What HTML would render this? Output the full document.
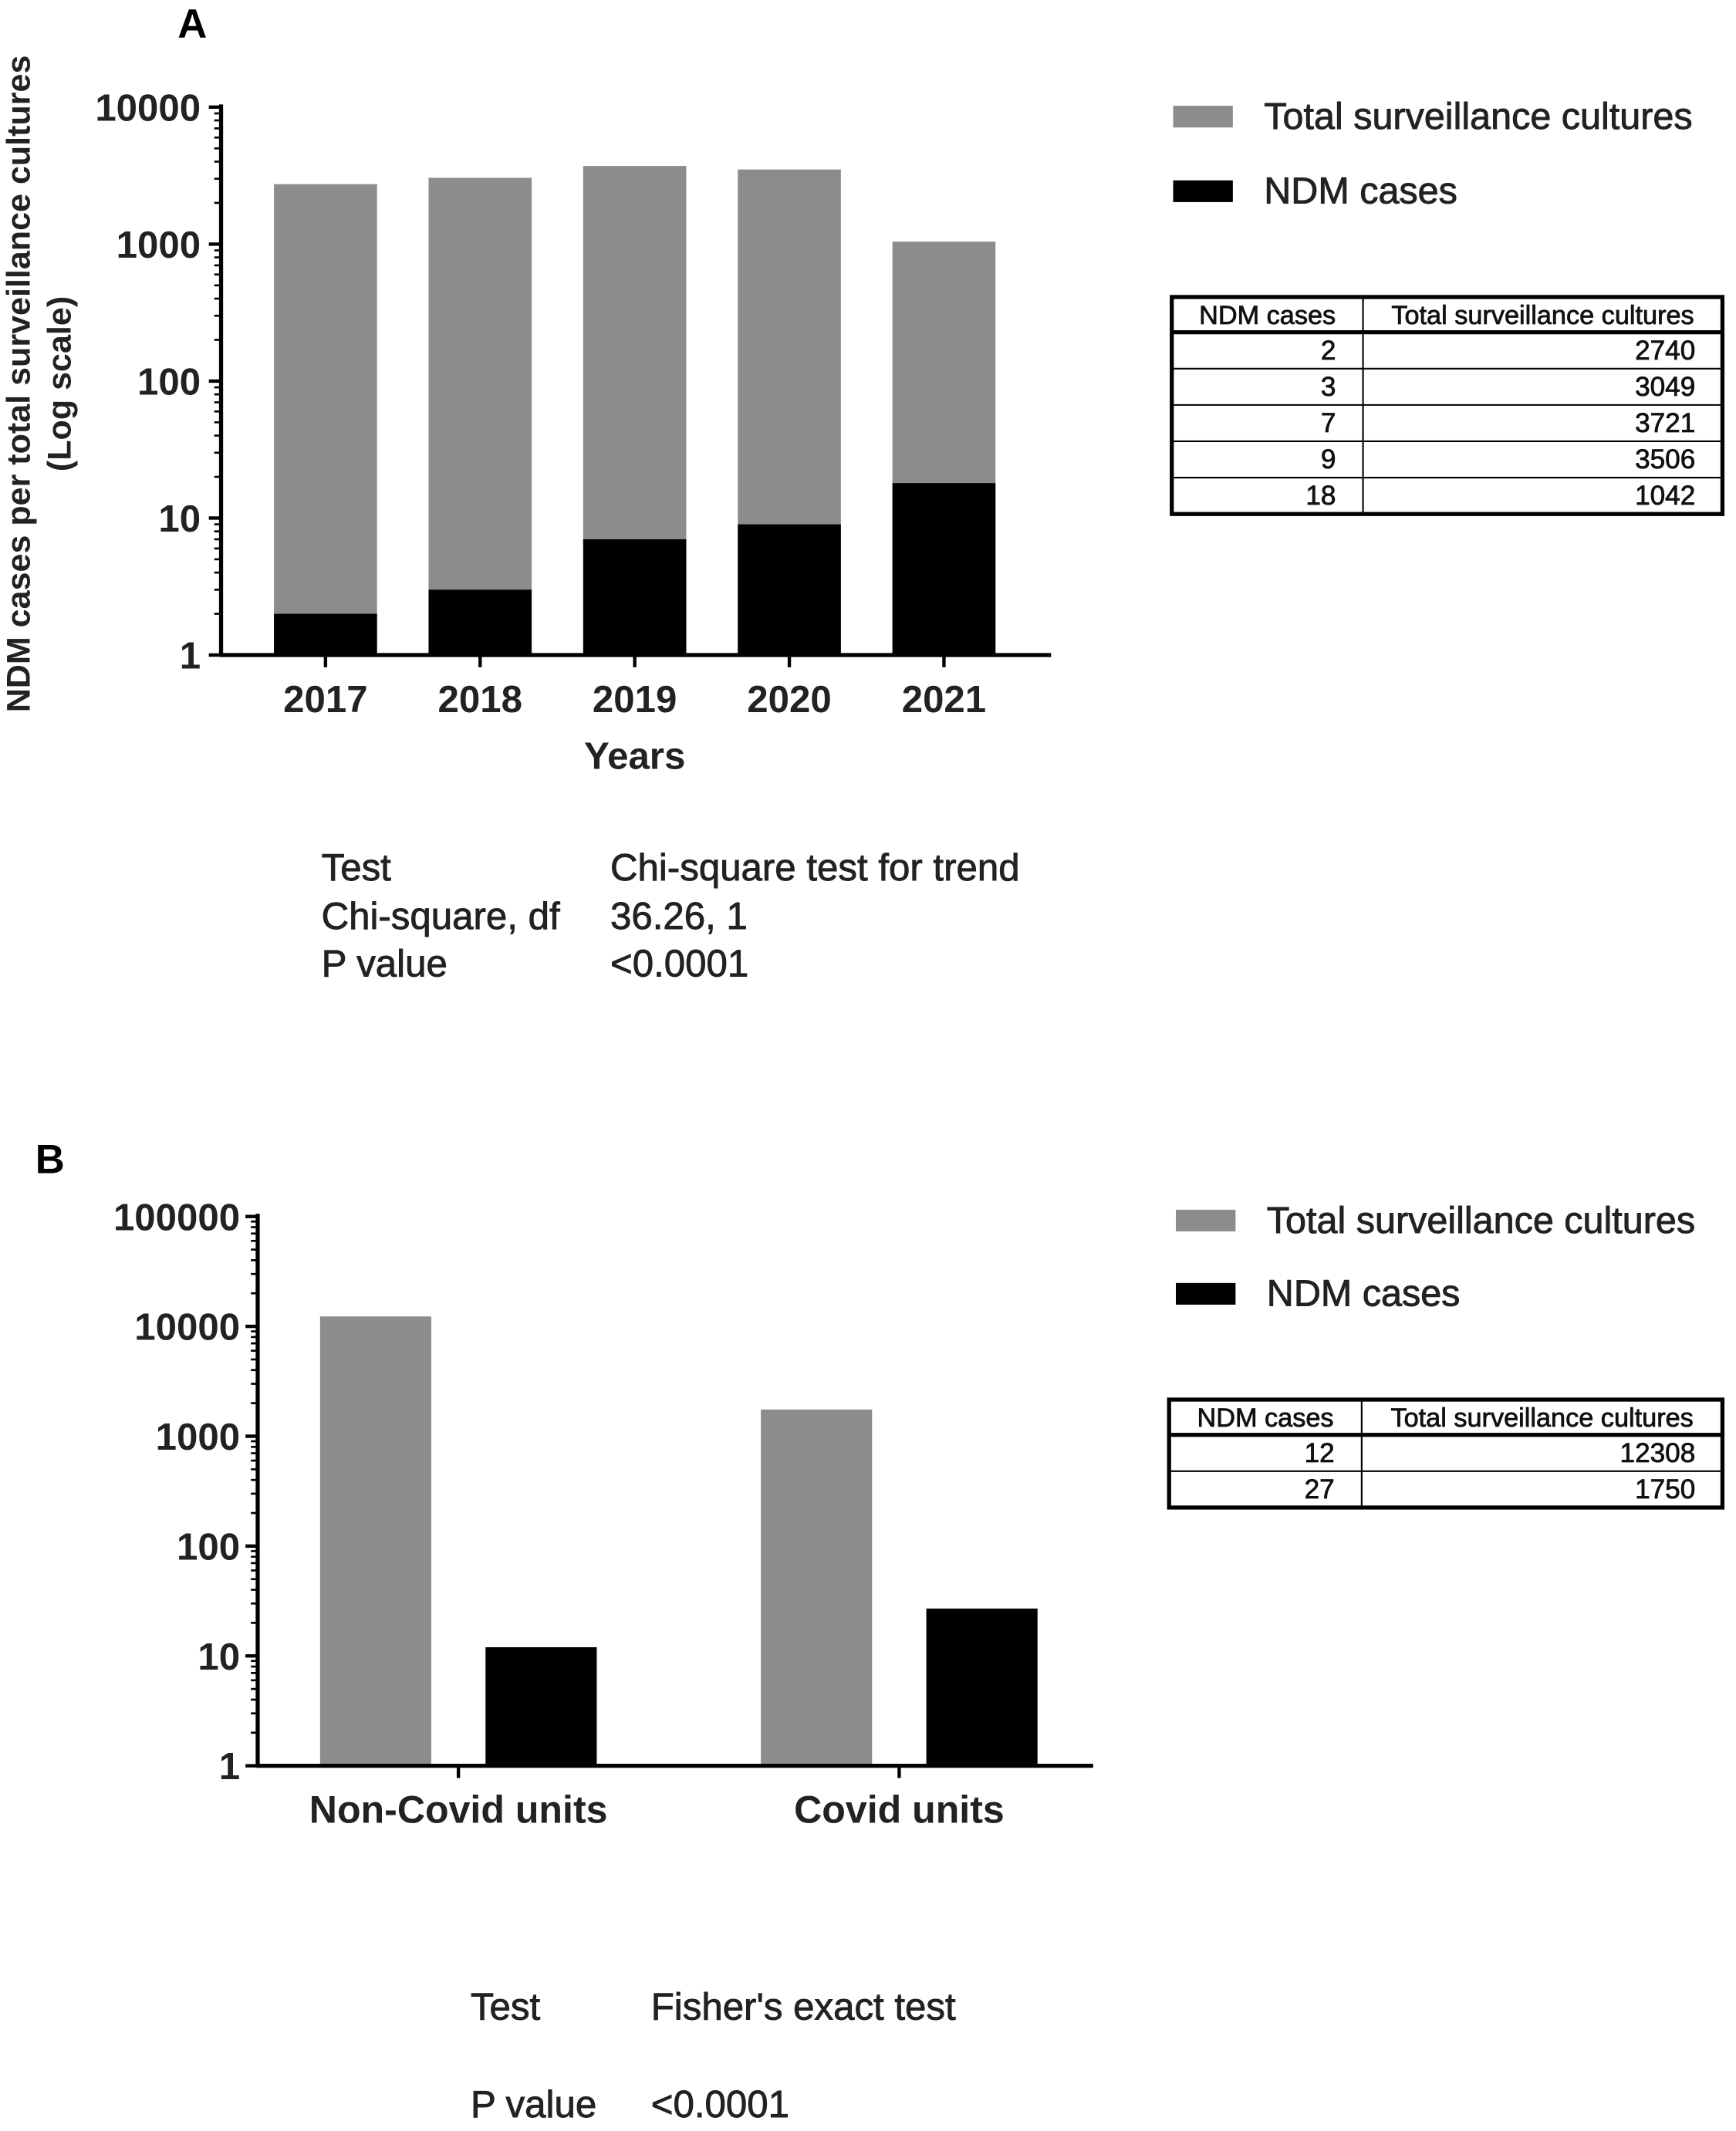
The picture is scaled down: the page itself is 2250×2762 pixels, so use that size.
<!DOCTYPE html>
<html><head><meta charset="utf-8"><style>
html,body{margin:0;padding:0;background:#fff;}
svg{display:block;}
text{font-family:"Liberation Sans",Arial,sans-serif;}
.semi{stroke:#222;stroke-width:0.5;}
</style></head><body>
<svg id="fig" width="2250" height="2762" viewBox="0 0 1280 1571.3" preserveAspectRatio="none" xmlns="http://www.w3.org/2000/svg">
<g id="panelA">
<text x="131" y="28" font-family="Liberation Serif" font-weight="bold" font-size="30">A</text>
<text transform="translate(22,283) rotate(-90)" text-anchor="middle" font-weight="bold" font-size="24.5" fill="#222">NDM cases per total surveillance cultures</text>
<text transform="translate(52,283) rotate(-90)" text-anchor="middle" font-weight="bold" font-size="24.5" fill="#222">(Log scale)</text>
<g id="barsA"></g><g id="axisA"></g>
<text x="468" y="567" text-anchor="middle" font-weight="bold" font-size="28" fill="#222">Years</text>
<g>
<rect x="865" y="78" width="44" height="16" fill="#8c8c8c"/>
<text class="semi" x="932" y="95" font-size="27.6" fill="#222">Total surveillance cultures</text>
<rect x="865" y="133" width="44" height="16" fill="#000"/>
<text class="semi" x="932" y="150" font-size="27.6" fill="#222">NDM cases</text>
</g>
<g id="tableA"></g>
<g class="semi" font-size="28" fill="#222">
<text x="237" y="649">Test</text><text x="450" y="649">Chi-square test for trend</text>
<text x="237" y="685">Chi-square, df</text><text x="450" y="685">36.26, 1</text>
<text x="237" y="720">P value</text><text x="450" y="720">&lt;0.0001</text>
</g>
</g>
<g id="panelB">
<text x="26" y="865" font-family="Liberation Serif" font-weight="bold" font-size="30">B</text>
<g id="barsB"></g><g id="axisB"></g>
<g>
<rect x="867" y="892" width="44" height="16" fill="#8c8c8c"/>
<text class="semi" x="934" y="909" font-size="27.6" fill="#222">Total surveillance cultures</text>
<rect x="867" y="946" width="44" height="16" fill="#000"/>
<text class="semi" x="934" y="963" font-size="27.6" fill="#222">NDM cases</text>
</g>
<g id="tableB"></g>
<g class="semi" font-size="28" fill="#222">
<text x="347" y="1489">Test</text><text x="480" y="1489">Fisher's exact test</text>
<text x="347" y="1561">P value</text><text x="480" y="1561">&lt;0.0001</text>
</g>
</g>
</svg>
<script>
const yearsA = ["2017","2018","2019","2020","2021"];
const ndmA = [2,3,7,9,18];
const totalA = [2740,3049,3721,3506,1042];
const ticksA = [1,10,100,1000,10000];
const groupsB = ["Non-Covid units","Covid units"];
const ndmB = [12,27];
const totalB = [12308,1750];
const ticksB = [1,10,100,1000,10000,100000];

const NS="http://www.w3.org/2000/svg";
function mk(parent,tag,attrs,txt){const e=document.createElementNS(NS,tag);for(const k in attrs)e.setAttribute(k,attrs[k]);if(txt!==undefined)e.textContent=txt;parent.appendChild(e);return e;}

// Panel A
const yA=v=>483-101*Math.log10(v);
const xA=i=>240+114*i;
const bA=document.getElementById('barsA');
yearsA.forEach((y,i)=>{
  const g=mk(bA,'rect',{x:xA(i)-38,y:yA(totalA[i]),width:76,height:483-yA(totalA[i]),fill:'#8c8c8c'});
  
  
  const b=mk(bA,'rect',{x:xA(i)-38,y:yA(ndmA[i]),width:76,height:483-yA(ndmA[i]),fill:'#000'});
  
  
});
const aA=document.getElementById('axisA');
const yl=mk(aA,'line',{x1:163,y1:77,x2:163,y2:484,stroke:'#000','stroke-width':3});


const xl=mk(aA,'line',{x1:162,y1:483,x2:775,y2:483,stroke:'#000','stroke-width':3});


ticksA.forEach((t,k)=>{
  mk(aA,'line',{x1:154,y1:yA(t),x2:163,y2:yA(t),stroke:'#000','stroke-width':2.5});
  const tl=mk(aA,'text',{x:148,y:yA(t)+10,'text-anchor':'end','font-weight':'bold','font-size':28,fill:'#222'},String(t));
  
  
  if(k<ticksA.length-1){for(let m=2;m<=9;m++){const yy=yA(t*m);mk(aA,'line',{x1:158,y1:yy,x2:163,y2:yy,stroke:'#000','stroke-width':1.5});}}
});
yearsA.forEach((y,i)=>{
  mk(aA,'line',{x1:xA(i),y1:483,x2:xA(i),y2:492,stroke:'#000','stroke-width':2.5});
  const tl=mk(aA,'text',{x:xA(i),y:525,'text-anchor':'middle','font-weight':'bold','font-size':28,fill:'#222'},y);
  
  
});

function table(id,x,y,w,split,rowsN,rowsT){
  const g=document.getElementById(id);
  const hh=26,rh=26.8,h=hh+rh*rowsN.length;
  mk(g,'rect',{x:x,y:y,width:w,height:h,fill:'#fff',stroke:'#000','stroke-width':3});
  mk(g,'line',{x1:x,y1:y+hh,x2:x+w,y2:y+hh,stroke:'#000','stroke-width':3});
  mk(g,'line',{x1:split,y1:y,x2:split,y2:y+h,stroke:'#000','stroke-width':1.2});
  mk(g,'text',{x:(x+split)/2,y:y+20,'text-anchor':'middle','font-size':19.5,fill:'#111',stroke:'#111','stroke-width':0.45},'NDM cases');
  mk(g,'text',{x:(split+x+w)/2,y:y+20,'text-anchor':'middle','font-size':19.5,fill:'#111',stroke:'#111','stroke-width':0.45},'Total surveillance cultures');
  rowsN.forEach((n,i)=>{
    const ry=y+hh+rh*i;
    if(i>0)mk(g,'line',{x1:x,y1:ry,x2:x+w,y2:ry,stroke:'#000','stroke-width':1.2});
    const c1=mk(g,'text',{x:split-20,y:ry+20,'text-anchor':'end','font-size':20,fill:'#111',stroke:'#111','stroke-width':0.45},String(n));
    
    
    const c2=mk(g,'text',{x:x+w-20,y:ry+20,'text-anchor':'end','font-size':20,fill:'#111',stroke:'#111','stroke-width':0.45},String(rowsT[i]));
    
    
  });
}
table('tableA',864,219,406,1005,ndmA,totalA);

// Panel B
const yB=v=>1302-81*Math.log10(v);
const cB=[338,663];
const bB=document.getElementById('barsB');
groupsB.forEach((gname,i)=>{
  const g=mk(bB,'rect',{x:cB[i]-102,y:yB(totalB[i]),width:82,height:1302-yB(totalB[i]),fill:'#8c8c8c'});
  
  
  const b=mk(bB,'rect',{x:cB[i]+20,y:yB(ndmB[i]),width:82,height:1302-yB(ndmB[i]),fill:'#000'});
  
  
});
const aB=document.getElementById('axisB');
const ylb=mk(aB,'line',{x1:190,y1:895,x2:190,y2:1303,stroke:'#000','stroke-width':3});


const xlb=mk(aB,'line',{x1:189,y1:1302,x2:806,y2:1302,stroke:'#000','stroke-width':3});


ticksB.forEach((t,k)=>{
  mk(aB,'line',{x1:181,y1:yB(t),x2:190,y2:yB(t),stroke:'#000','stroke-width':2.5});
  const tl=mk(aB,'text',{x:177,y:yB(t)+10,'text-anchor':'end','font-weight':'bold','font-size':28,fill:'#222'},String(t));
  
  
  if(k<ticksB.length-1){for(let m=2;m<=9;m++){const yy=yB(t*m);mk(aB,'line',{x1:185,y1:yy,x2:190,y2:yy,stroke:'#000','stroke-width':1.5});}}
});
groupsB.forEach((gname,i)=>{
  mk(aB,'line',{x1:cB[i],y1:1302,x2:cB[i],y2:1311,stroke:'#000','stroke-width':2.5});
  const tl=mk(aB,'text',{x:cB[i],y:1344,'text-anchor':'middle','font-weight':'bold','font-size':28.5,fill:'#222'},gname);
  
  
});
table('tableB',862,1032,408,1004,ndmB,totalB);
</script>
</body></html>
